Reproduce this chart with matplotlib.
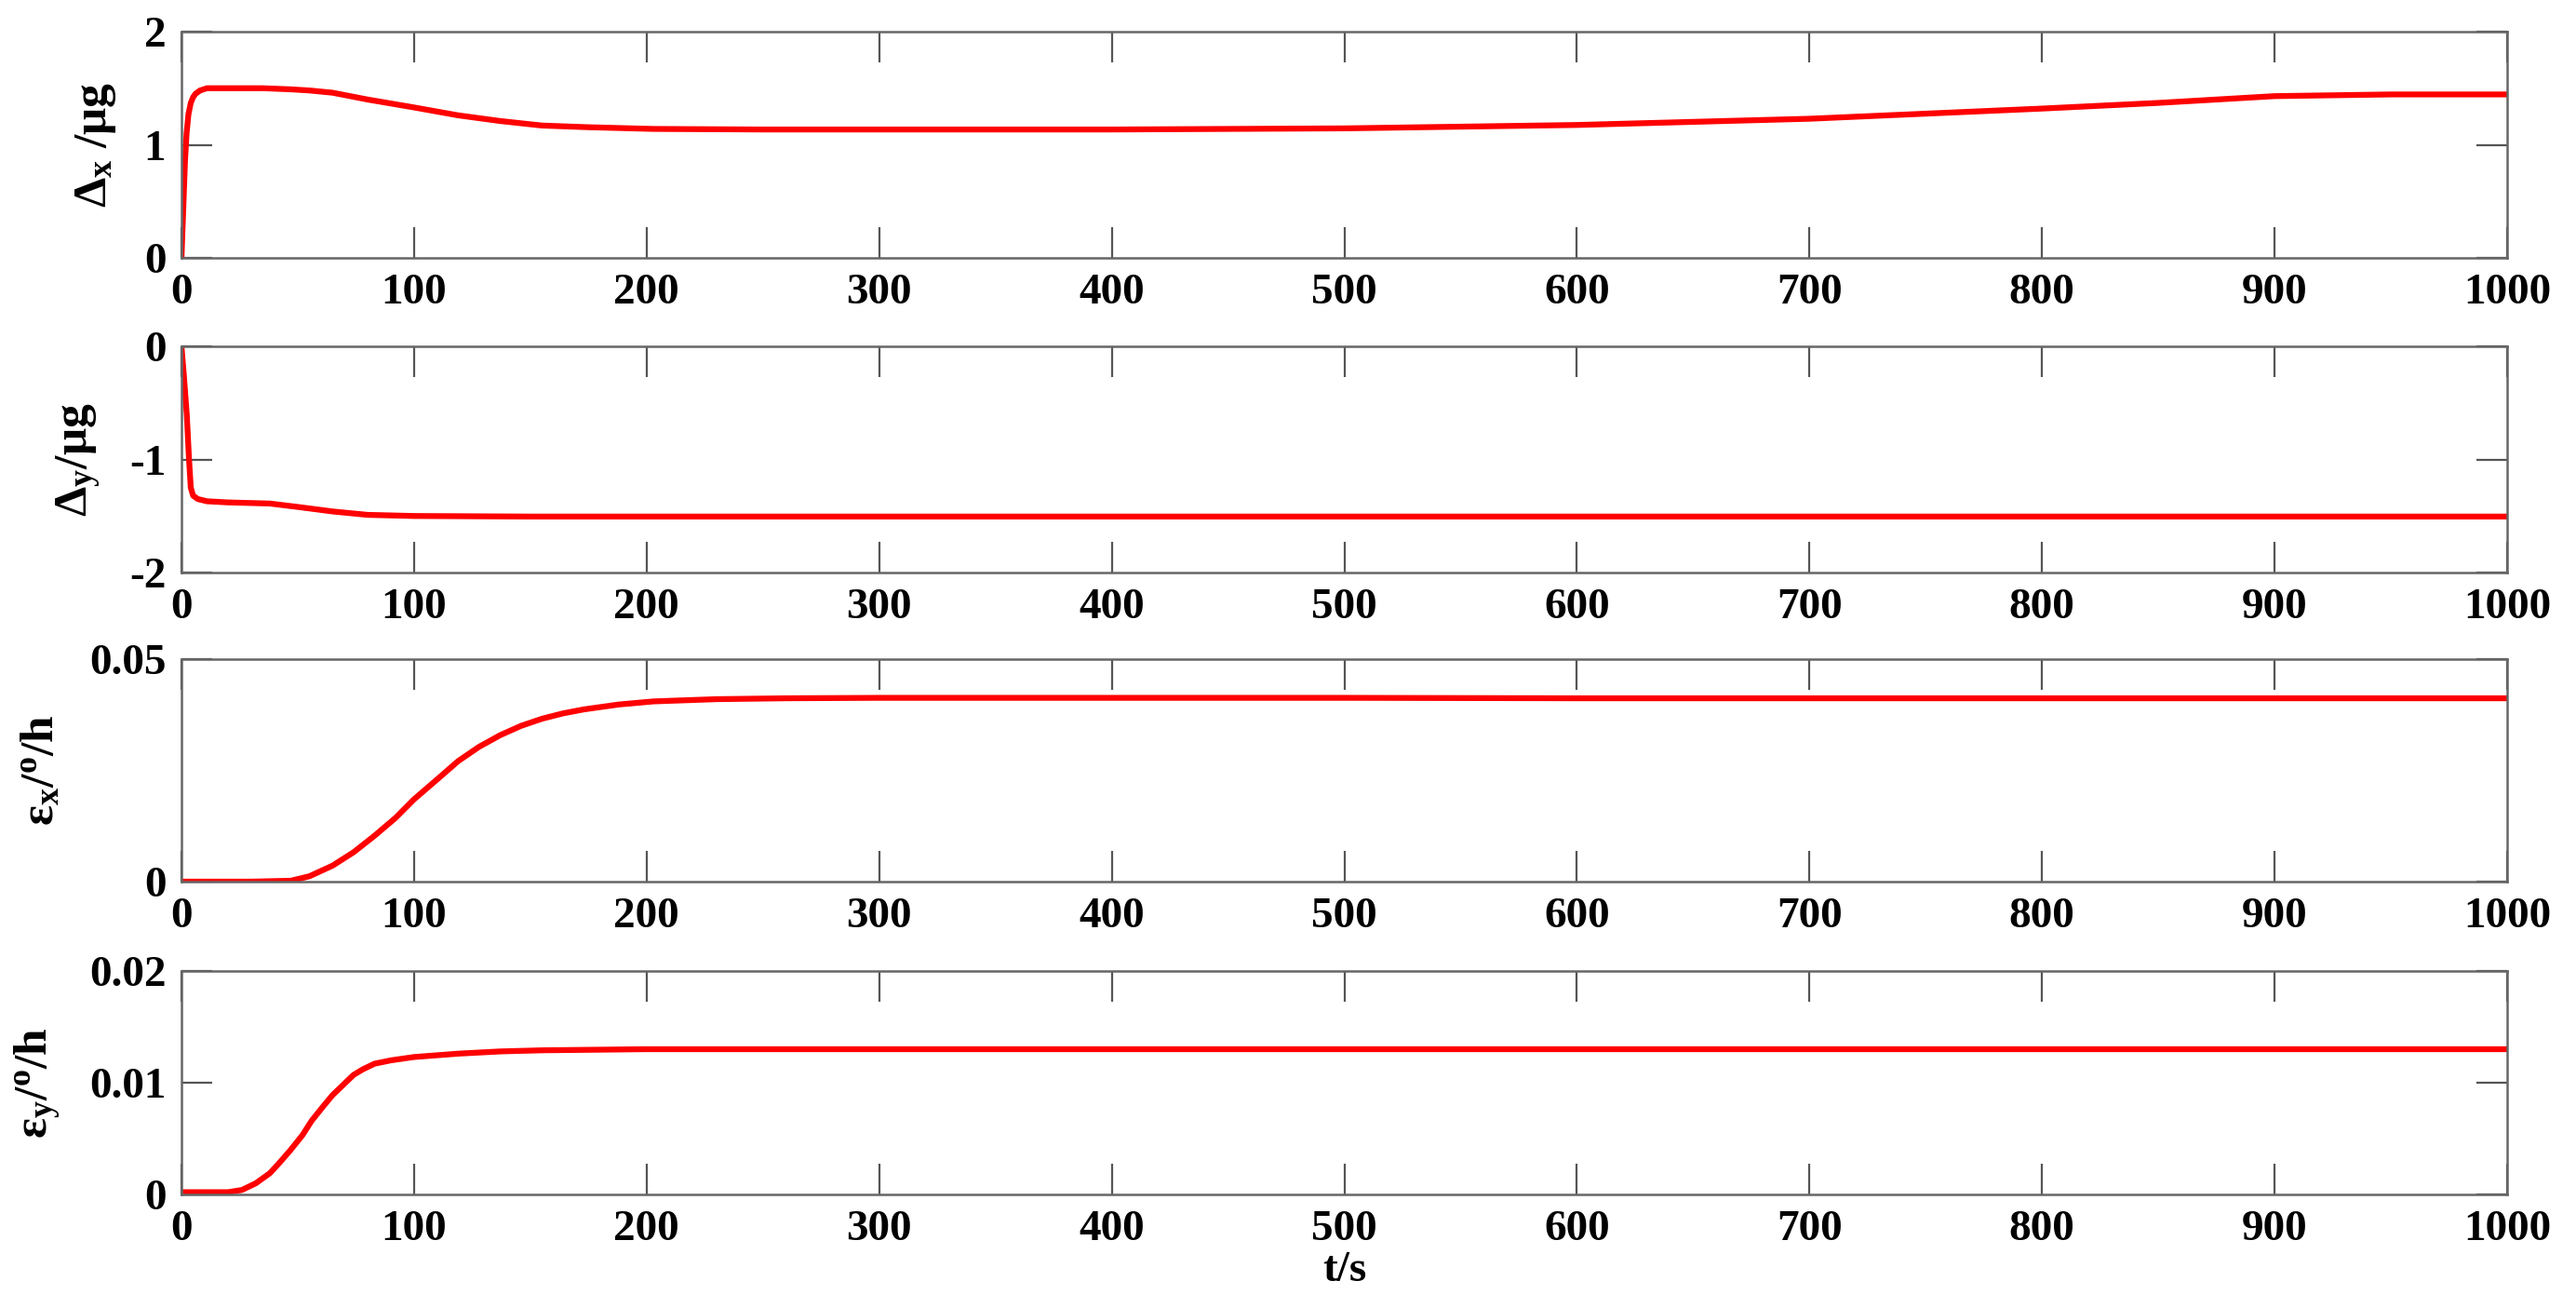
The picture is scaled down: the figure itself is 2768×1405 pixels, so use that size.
import matplotlib
matplotlib.use("Agg")
import matplotlib.pyplot as plt
import numpy as np

plt.rcParams['font.family'] = ['Liberation Serif', 'DejaVu Serif']
plt.rcParams['font.weight'] = 'bold'
plt.rcParams['mathtext.fontset'] = 'custom'
plt.rcParams['mathtext.rm'] = 'Liberation Serif:bold'
plt.rcParams['mathtext.it'] = 'Liberation Serif:bold'
plt.rcParams['mathtext.bf'] = 'Liberation Serif:bold'
plt.rcParams['mathtext.default'] = 'rm'
plt.rcParams['axes.unicode_minus'] = False

# values
t_dx = [0, 0.8, 1.5, 2.2, 3, 4, 5, 6, 8, 11, 20, 35, 47, 55, 65, 80, 100, 119, 137, 155,
        175, 203, 250, 300, 400, 500, 600, 700, 800, 850, 900, 950, 1000]
dx = [0, 0.45, 0.85, 1.1, 1.27, 1.37, 1.42, 1.45, 1.48, 1.5, 1.5, 1.5, 1.49, 1.48, 1.46,
      1.40, 1.33, 1.26, 1.21, 1.17, 1.155, 1.14, 1.135, 1.135, 1.135, 1.145, 1.175,
      1.23, 1.32, 1.37, 1.43, 1.445, 1.445]

t_dy = [0, 1, 2.3, 3.2, 4, 5, 7, 11, 20, 38, 50, 65, 80, 100, 150, 200, 400, 600,
        800, 1000]
dy = [0, -0.25, -0.61, -0.98, -1.25, -1.32, -1.35, -1.37, -1.38, -1.39, -1.42, -1.46,
      -1.49, -1.50, -1.505, -1.505, -1.505, -1.505, -1.505, -1.505]

t_ex = [0, 30, 47, 55, 65, 74, 83, 92, 100, 110, 119, 128, 137, 146, 155, 164, 173,
        188, 203, 230, 260, 300, 400, 500, 600, 700, 800, 900, 1000]
ex = [0, 0, 0.0002, 0.0012, 0.0036, 0.0066, 0.0103, 0.0143, 0.0185, 0.0230, 0.0271,
      0.0303, 0.0329, 0.0350, 0.0366, 0.0378, 0.0387, 0.0398, 0.0405, 0.0410, 0.0412,
      0.0413, 0.0413, 0.0413, 0.0412, 0.0412, 0.0412, 0.0412, 0.0412]

t_ey = [0, 20, 26, 32, 38, 42, 47, 52, 56, 61, 65, 70, 74, 78, 83, 90, 100, 119,
        137, 155, 200, 300, 500, 700, 1000]
ey = [0.0002, 0.0002, 0.0004, 0.0010, 0.0019, 0.0028, 0.0040, 0.0053, 0.0066, 0.0079,
      0.0089, 0.0099, 0.0107, 0.0112, 0.0117, 0.0120, 0.0123, 0.0126, 0.0128, 0.0129,
      0.0130, 0.0130, 0.0130, 0.0130, 0.0130]

xticks = [0, 100, 200, 300, 400, 500, 600, 700, 800, 900, 1000]

series = [
    (t_dx, dx, [0, 1, 2], ['0', '1', '2'], (0, 2), r'$\Delta_{x}$ /$\mathrm{\mu g}$'),
    (t_dy, dy, [-2, -1, 0], ['-2', '-1', '0'], (-2, 0), r'$\Delta_{y}$/$\mathrm{\mu g}$'),
    (t_ex, ex, [0, 0.05], ['0', '0.05'], (0, 0.05), r'$\epsilon_{x}$/$^{o}$/h'),
    (t_ey, ey, [0, 0.01, 0.02], ['0', '0.01', '0.02'], (0, 0.02), r'$\epsilon_{y}$/$^{o}$/h'),
]

W, H = 2768, 1405
fig = plt.figure(figsize=(W / 100, H / 100), dpi=100)

left, right = 195, 2694
tops = [34, 372, 708, 1043]
bottoms = [277, 615, 947, 1283]

fs = 34
for i, (tx, vy, yt, ytl, ylim, lab) in enumerate(series):
    ax = fig.add_axes([left / W, 1 - bottoms[i] / H, (right - left) / W,
                       (bottoms[i] - tops[i]) / H])
    ax.plot(tx, vy, color='red', lw=4.5)
    ax.set_xlim(0, 1000)
    ax.set_ylim(*ylim)
    ax.set_xticks(xticks)
    ax.set_xticklabels([str(v) for v in xticks], fontsize=fs, fontweight='bold')
    ax.set_yticks(yt)
    ax.set_yticklabels(ytl, fontsize=fs, fontweight='bold')
    ax.tick_params(direction='in', length=24, width=1.6, color='#555555',
                   top=True, right=True, pad=12)
    for s in ax.spines.values():
        s.set_color('#666666')
        s.set_linewidth(1.8)
    ax.set_ylabel(lab, fontsize=37, fontweight='bold', labelpad=20)
    if i == 3:
        ax.set_xlabel('t/s', fontsize=fs, fontweight='bold', labelpad=2)

fig.savefig('out.png', dpi=100)
